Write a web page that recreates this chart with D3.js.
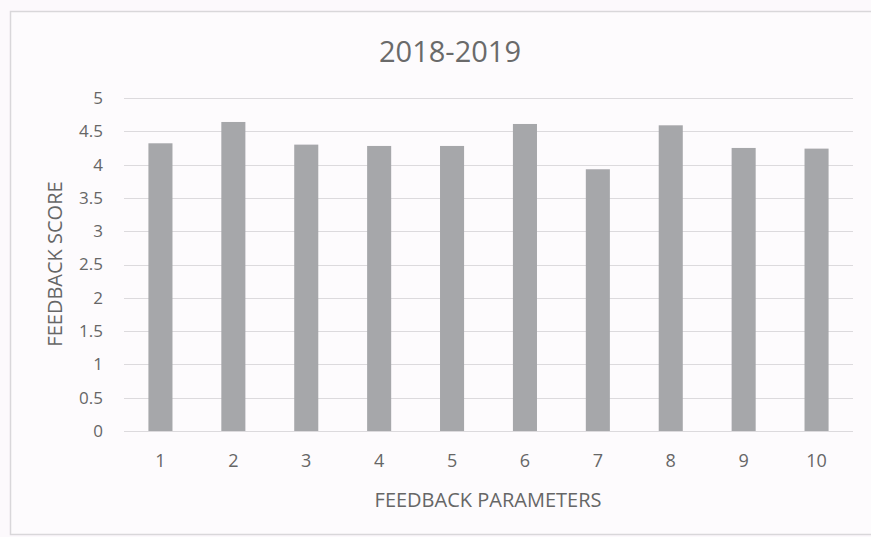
<!DOCTYPE html>
<html>
<head>
<meta charset="utf-8">
<script src="https://cdn.jsdelivr.net/npm/d3@7"></script>
<style>
  html, body { margin: 0; padding: 0; background: #fcf9fc; }
  svg { display: block; }
  text { font-family: "Open Sans", "Noto Sans", sans-serif; fill: #666; }
</style>
</head>
<body>
<svg id="chart" width="871" height="537"></svg>
<script>
const title = "2018-2019";
const categories = ["1", "2", "3", "4", "5", "6", "7", "8", "9", "10"];
const scores = [4.32, 4.64, 4.30, 4.28, 4.28, 4.61, 3.93, 4.59, 4.25, 4.24];
const yTicks = [0, 0.5, 1, 1.5, 2, 2.5, 3, 3.5, 4, 4.5, 5];
const xTitle = "FEEDBACK PARAMETERS";
const yTitle = "FEEDBACK SCORE";

const svg = d3.select("#chart");
const W = 871, H = 537;
const m = { left: 124, right: 18, top: 98, bottom: 106 };
const pw = W - m.left - m.right, ph = H - m.top - m.bottom;

// frame
svg.append("rect").attr("x", 10.5).attr("y", 11.5).attr("width", 870).attr("height", 523)
  .attr("fill", "#fdfbfd").attr("stroke", "#d9d7da").attr("stroke-width", 1.5);

const g = svg.append("g").attr("transform", `translate(${m.left},${m.top})`);

const x = d3.scaleBand().domain(categories).range([0, pw]).paddingInner(0.67).paddingOuter(0.335);
const y = d3.scaleLinear().domain([0, 5]).range([ph, 0]);

// gridlines
g.append("g").selectAll("line").data(yTicks).join("line")
  .attr("x1", 0).attr("x2", pw)
  .attr("y1", d => Math.round(y(d)) + 0.5).attr("y2", d => Math.round(y(d)) + 0.5)
  .attr("stroke", "#dcdadd").attr("stroke-width", 1);

// y axis labels
const yAxis = d3.axisLeft(y).tickValues(yTicks).tickSize(0).tickPadding(21).tickFormat(d3.format("~g"));
const ya = g.append("g").call(yAxis);
ya.select(".domain").remove();
ya.selectAll("text").style("font-size", "17px").style("fill", "#666").style("font-family", "Open Sans");

// bars
g.append("g").selectAll("rect").data(scores).join("rect")
  .attr("x", (d, i) => x(categories[i]))
  .attr("y", d => y(d))
  .attr("width", x.bandwidth())
  .attr("height", d => y(0) - y(d))
  .attr("fill", "#a6a7aa");

// x axis labels
const xAxis = d3.axisBottom(x).tickSize(0).tickPadding(23);
const xa = g.append("g").attr("transform", `translate(0,${ph})`).call(xAxis);
xa.select(".domain").remove();
xa.selectAll("text").style("font-size", "18px").style("fill", "#666").style("font-family", "Open Sans");

// titles
svg.append("text").attr("x", 450).attr("y", 62).attr("text-anchor", "middle")
  .style("font-size", "29px").style("fill", "#6a6a6a").text(title);
svg.append("text").attr("x", 488).attr("y", 507).attr("text-anchor", "middle")
  .style("font-size", "20px").text(xTitle);
svg.append("text").attr("transform", "translate(62,264) rotate(-90)").attr("text-anchor", "middle")
  .style("font-size", "20px").text(yTitle);
</script>
</body>
</html>
